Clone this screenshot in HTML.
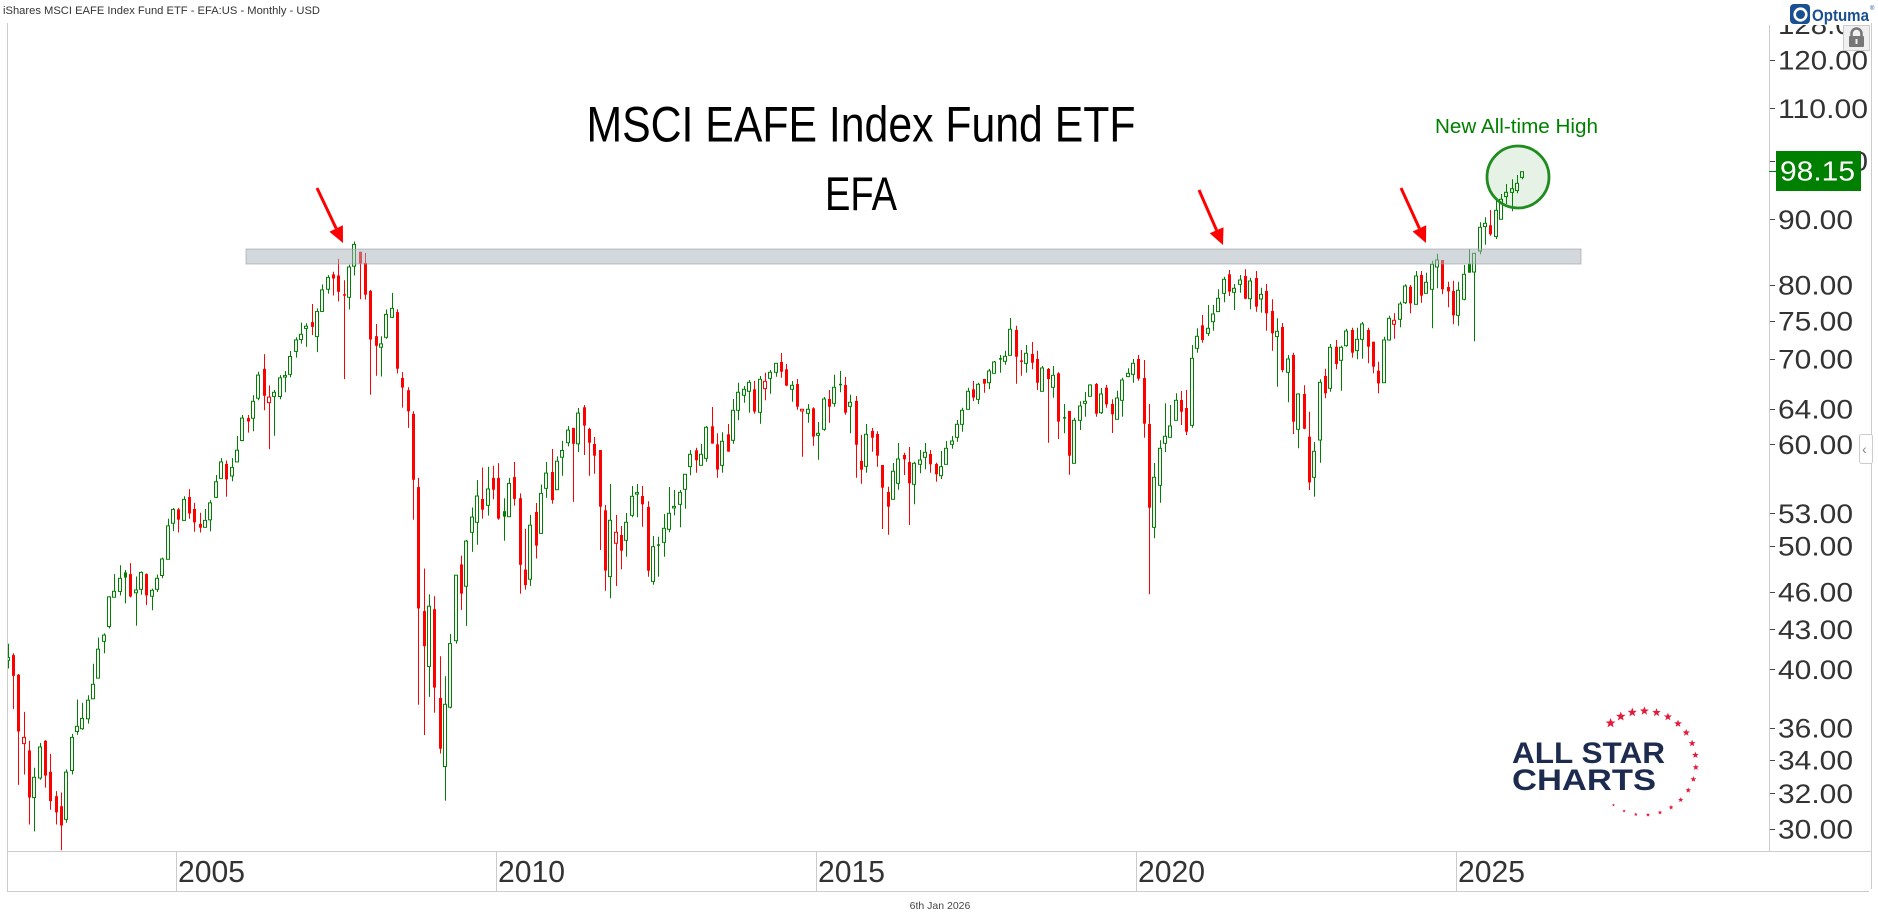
<!DOCTYPE html>
<html><head><meta charset="utf-8">
<style>
html,body{margin:0;padding:0;background:#fff;width:1878px;height:924px;overflow:hidden}
svg{display:block}
text{font-family:"Liberation Sans",Arial,sans-serif}
</style></head><body>
<svg id="s" width="1878" height="924" viewBox="0 0 1878 924" xmlns="http://www.w3.org/2000/svg">
<defs>
<clipPath id="axclip"><rect x="1770" y="25" width="101" height="826"/></clipPath>
<clipPath id="plotclip"><rect x="8" y="24" width="1761" height="827"/></clipPath>
</defs>
<rect width="1878" height="924" fill="#fff"/>
<text x="3" y="14" font-size="11" fill="#333" textLength="317" lengthAdjust="spacingAndGlyphs">iShares MSCI EAFE Index Fund ETF - EFA:US - Monthly - USD</text>

<g stroke="#cccccc" stroke-width="1" fill="none" shape-rendering="crispEdges">
<line x1="7.5" y1="23" x2="7.5" y2="891"/>
<line x1="1871.5" y1="23" x2="1871.5" y2="889"/>
<line x1="7" y1="891.5" x2="1869" y2="891.5"/>
<line x1="7" y1="851.5" x2="1871" y2="851.5"/>
<line x1="1769.5" y1="25" x2="1769.5" y2="851"/>
<line x1="176.5" y1="851" x2="176.5" y2="891"/>
<line x1="496.5" y1="851" x2="496.5" y2="891"/>
<line x1="816.5" y1="851" x2="816.5" y2="891"/>
<line x1="1136.5" y1="851" x2="1136.5" y2="891"/>
<line x1="1456.5" y1="851" x2="1456.5" y2="891"/>
</g>

<g font-size="31" fill="#333">
<text x="178" y="882" textLength="67" lengthAdjust="spacingAndGlyphs">2005</text>
<text x="498" y="882" textLength="67" lengthAdjust="spacingAndGlyphs">2010</text>
<text x="818" y="882" textLength="67" lengthAdjust="spacingAndGlyphs">2015</text>
<text x="1138" y="882" textLength="67" lengthAdjust="spacingAndGlyphs">2020</text>
<text x="1458" y="882" textLength="67" lengthAdjust="spacingAndGlyphs">2025</text>
</g>

<g id="yaxis" clip-path="url(#axclip)"></g>

<g id="candles" clip-path="url(#plotclip)"></g>

<rect x="246" y="249" width="1335" height="15" fill="rgba(167,177,187,0.5)" stroke="rgba(140,150,160,0.55)" stroke-width="1"/>

<g stroke="#ff0000" stroke-width="3" fill="none">
<line x1="317" y1="188" x2="336.2" y2="228.5"/>
<line x1="1199" y1="190" x2="1216.6" y2="230.3"/>
<line x1="1401" y1="188" x2="1419.4" y2="228.4"/>
</g>
<g fill="#ff0000">
<polygon points="343,243 342.9,225.3 329.4,231.8"/>
<polygon points="1223,245 1223.5,227.3 1209.7,233.3"/>
<polygon points="1426,243 1426.2,225.3 1412.6,231.5"/>
</g>

<circle cx="1518" cy="177" r="31" fill="rgba(0,128,0,0.1)" stroke="#1e8c1e" stroke-width="2.8"/>
<text x="1435" y="133" font-size="20" fill="#008000" textLength="163" lengthAdjust="spacingAndGlyphs">New All-time High</text>

<text x="861" y="141.5" font-size="50" fill="#000" text-anchor="middle" textLength="549" lengthAdjust="spacingAndGlyphs">MSCI EAFE Index Fund ETF</text>
<text x="861" y="210" font-size="47" fill="#000" text-anchor="middle" textLength="72" lengthAdjust="spacingAndGlyphs">EFA</text>

<!-- price marker -->
<line x1="1769" y1="171.5" x2="1777" y2="171.5" stroke="#008000" stroke-width="1"/>
<rect x="1776" y="151" width="85" height="40" fill="#008000"/>
<text x="1780" y="180.5" font-size="28" fill="#fff" textLength="75" lengthAdjust="spacingAndGlyphs">98.15</text>

<!-- side tab -->
<rect x="1859.5" y="434.5" width="13" height="29" rx="2" fill="#fff" stroke="#cccccc"/>
<text x="1862" y="454" font-size="14" fill="#888">‹</text>

<!-- lock -->
<rect x="1843.5" y="25.5" width="26" height="25" fill="#f0f0f0" stroke="#cccccc"/>
<path d="M1851.5 37 v-3.5 a5 5 0 0 1 10 0 v3.5" stroke="#777" stroke-width="2.5" fill="none"/>
<rect x="1849" y="36" width="15" height="11" rx="1" fill="#777"/>
<rect x="1855.5" y="39" width="2" height="5" fill="#f0f0f0"/>

<!-- Optuma logo -->
<rect x="1790" y="4" width="20" height="20" rx="4" fill="#1b4f93"/>
<circle cx="1800.5" cy="14.5" r="5.8" fill="none" stroke="#fff" stroke-width="2.6"/>
<circle cx="1802" cy="16" r="2.2" fill="#1b4f93"/>
<text x="1812" y="21" font-size="17" fill="#1b4f93" font-weight="bold" textLength="57" lengthAdjust="spacingAndGlyphs">Optuma</text>
<text x="1870" y="10" font-size="6" fill="#1b4f93">®</text>

<!-- All Star Charts logo -->
<g id="stars"></g>
<text x="1512" y="763" font-size="30" font-weight="bold" fill="#1d2b4f" textLength="153" lengthAdjust="spacingAndGlyphs">ALL STAR</text>
<text x="1512" y="790" font-size="30" font-weight="bold" fill="#1d2b4f" textLength="144" lengthAdjust="spacingAndGlyphs">CHARTS</text>

<text x="940" y="909" font-size="10.5" fill="#444" text-anchor="middle">6th Jan 2026</text>
</svg>

<script>
(function(){
var zs=[
{off:320,div:2.904,start:1,d:[
[980,988,940,1012,'g'],[973,1033,968,1130,'r'],[1030,1195,1028,1350,'r'],[1212,1230,1138,1320,'R'],[1250,1387,1222,1465,'r'],
[1328,1387,1300,1485,'g'],[1240,1330,1228,1335,'g'],[1222,1323,1220,1358,'r'],[1312,1397,1260,1422,'r'],[1383,1430,1368,1465,'r'],
[1412,1468,1372,1540,'r'],[1313,1450,1305,1460,'g'],[1212,1308,1202,1320,'g'],[1180,1195,1102,1205,'g'],[1157,1187,1112,1190,'g'],
[1104,1158,1090,1172,'g'],[1058,1100,998,1100,'g'],[956,1040,922,1040,'g'],[915,933,910,968,'g'],[804,890,802,896,'g'],
[788,805,738,805,'g'],[750,788,712,800,'g'],[733,748,726,823,'G'],[738,803,706,806,'r'],[784,792,745,888,'g'],
[733,782,730,798,'g'],[738,800,736,828,'r'],[785,802,780,843,'g'],[750,782,739,790,'g'],[694,742,690,750,'g'],
[598,695,577,695,'g'],[550,590,546,613,'g'],[550,580,546,617,'r'],[521,582,512,582,'g'],[514,562,491,577,'r'],
[549,588,531,615,'r'],[592,603,560,617,'r'],[582,602,549,602,'g'],[531,580,523,614,'g'],[470,515,450,517,'g'],
[412,460,401,460,'g'],[418,463,408,513,'r'],[428,453,401,468,'g'],[378,412,337,412,'g'],[285,350,276,352,'g'],
[285,295,276,327,'r'],[236,285,218,323,'g'],[160,227,150,233,'g'],[142,220,99,262,'r'],[224,240,190,375,'R'],
[210,222,203,336,'g'],[168,222,160,230,'g'],[162,165,148,210,'g']]},
{off:230,div:2.703,start:54,d:[
[342,390,327,398,'g'],[297,328,290,345,'g'],[282,296,250,307,'g'],[260,266,252,316,'g'],[249,262,200,284,'r'],
[220,288,212,330,'g'],[162,220,147,222,'g'],[128,160,122,172,'g'],[120,131,113,177,'r'],[123,167,78,193,'r'],
[174,177,136,403,'r'],[100,182,94,215,'g'],[39,98,31,123,'g'],[59,91,59,187,'r'],[89,175,62,188,'r'],
[165,296,162,445,'r'],[287,313,254,394,'r'],[308,317,287,396,'g'],[228,290,215,294,'g'],[212,236,170,238,'g'],
[222,375,214,388,'r'],[400,426,384,480,'r'],[433,490,425,535,'r'],[497,675,490,783,'r'],[695,1023,670,1283,'r'],
[1030,1125,915,1365,'r'],[1017,1180,985,1262,'g'],[1025,1237,990,1305,'r'],[1265,1402,1152,1415,'r'],[1282,1450,1206,1543,'g'],
[1118,1290,1092,1293,'g'],[933,1110,933,1118,'g'],[904,983,880,1027,'r'],[841,963,838,1070,'g'],[776,817,750,870,'g'],
[719,790,676,851,'g'],[727,756,642,780,'r'],[700,744,640,772,'g'],[670,702,637,728,'r'],[670,780,630,783,'r'],
[760,775,725,840,'G'],[685,775,670,775,'g'],[668,727,627,745,'r'],[725,905,712,983,'r'],[918,960,808,972,'r'],
[798,944,770,962,'g'],[762,853,738,888,'r'],[712,820,688,820,'g'],[657,698,627,724,'g'],[654,730,592,740,'r'],
[625,702,612,702,'g'],[596,614,570,664,'g'],[541,575,530,585,'g'],[535,578,535,735,'r'],[495,578,481,600,'g']]},
{off:330,div:3,start:109,d:[
[232,287,225,375,'r'],[297,338,293,437,'r'],[342,377,321,431,'r'],[360,530,360,660,'r'],[541,722,525,782,'r'],
[571,740,462,805,'g'],[607,640,555,768,'R'],[615,662,588,718,'r'],[577,631,549,680,'g'],[499,556,468,562,'g'],
[489,491,462,562,'g'],[498,523,468,590,'r'],[531,722,514,740,'r'],[650,754,618,764,'g'],[643,647,620,740,'G'],
[595,637,552,680,'g'],[550,598,471,607,'g'],[531,532,480,556,'g'],[487,523,480,592,'g'],[433,478,433,536,'g'],
[373,410,360,436,'g'],[361,391,353,428,'r'],[373,406,342,406,'g'],[292,385,288,395,'g'],[289,341,231,341,'r'],
[343,419,310,443,'r'],[334,406,307,428,'g'],[313,365,282,365,'r'],[241,331,207,341,'g'],[187,241,158,271,'g'],
[178,196,168,218,'g'],[157,184,150,248,'g'],[178,245,153,251,'r'],[148,247,138,281,'g'],[154,176,128,211,'R'],
[127,145,120,191,'g'],[100,127,100,140,'g'],[96,125,69,143,'r'],[118,167,102,169,'r'],[166,178,153,215,'g'],
[162,230,147,239,'r'],[238,243,238,380,'R'],[238,250,222,278,'g'],[235,320,232,347,'r'],[310,316,276,389,'g'],
[207,298,201,302,'g'],[207,230,180,278,'r'],[172,220,134,230,'g'],[162,165,123,187,'G'],[165,248,141,254,'r'],
[217,229,194,310,'g'],[213,344,198,443,'r'],[393,419,315,461,'r'],[313,409,282,428,'g'],[303,323,294,365,'r'],
[312,377,304,410,'r'],[405,473,405,597,'r'],[486,530,470,614,'r'],[424,508,399,508,'g'],[387,460,339,479,'g']]},
{off:260,div:3,start:169,d:[
[585,598,578,645,'r'],[606,670,561,795,'r'],[610,673,605,733,'g'],[600,613,570,640,'g'],[577,592,549,628,'g'],
[582,613,570,638,'r'],[612,643,608,665,'r'],[620,647,573,657,'g'],[565,613,543,613,'g'],[543,553,528,566,'g'],
[493,532,480,545,'g'],[451,493,443,515,'g'],[394,448,383,448,'g'],[388,413,363,423,'r'],[373,418,368,432,'g'],
[357,371,357,398,'r'],[333,368,327,387,'g'],[306,340,303,340,'g'],[295,298,285,338,'G'],[289,304,272,314,'g'],
[208,286,174,286,'g'],[210,290,197,371,'r'],[303,304,270,347,'r'],[280,310,255,338,'g'],[282,308,246,328,'r'],
[297,368,272,390,'r'],[324,394,318,394,'g'],[327,357,324,548,'r'],[346,382,318,413,'g'],[340,485,337,537,'r'],
[472,475,432,520,'G'],[453,587,453,644,'r'],[481,610,473,610,'g'],[438,481,424,510,'g'],[424,430,396,470,'g'],
[375,409,373,409,'g'],[372,461,369,470,'r'],[402,458,384,462,'g'],[383,433,375,443,'r'],[432,463,418,519,'r'],
[414,478,392,478,'g'],[360,421,353,470,'g'],[340,350,325,352,'g'],[310,343,297,368,'g'],[297,356,285,362,'r'],
[354,491,300,533,'r'],[492,743,432,1003,'r'],[652,802,609,835,'g'],[565,676,541,728,'g'],[529,550,430,576,'g'],
[498,532,435,532,'g'],[421,481,400,481,'g'],[420,455,393,495,'r'],[444,515,390,525,'r'],[295,496,255,503,'g'],
[229,265,205,278,'g'],[196,240,165,248,'r'],[205,220,135,228,'g']]},
{off:140,div:3,start:227,d:[
[522,545,495,572,'g'],[475,515,448,515,'g'],[418,460,410,487,'g'],[403,455,390,468,'r'],[445,457,432,510,'g'],
[420,433,405,458,'g'],[408,476,388,478,'r'],[423,476,413,508,'g'],[414,500,393,515,'r'],[463,477,443,518,'g'],
[453,520,432,572,'r'],[513,580,478,632,'r'],[574,590,535,740,'g'],[561,690,549,697,'r'],[657,697,645,787,'g'],
[645,845,638,882,'r'],[762,868,760,925,'g'],[762,866,736,868,'r'],[890,1027,815,1050,'r'],[934,1012,906,1070,'g'],
[727,900,718,968,'g'],[708,760,686,775,'r'],[622,745,612,755,'g'],[620,672,600,688,'r'],[622,661,617,752,'g'],
[573,617,566,620,'g'],[570,638,563,653,'r'],[598,632,563,658,'g'],[552,598,546,656,'g'],[570,620,563,670,'r'],
[605,680,605,700,'r'],[692,730,665,760,'r'],[600,728,590,728,'g'],[535,600,527,602,'g'],[541,553,520,596,'R'],
[492,538,485,562,'g'],[438,488,433,492,'g'],[440,490,435,520,'r'],[408,493,393,493,'g'],[405,467,393,488,'r'],
[427,460,398,460,'g'],[373,448,362,565,'g'],[360,381,341,445,'g'],[360,448,360,463,'r'],[441,454,425,502,'r'],
[453,526,422,553,'r'],[451,526,425,557,'g'],[403,478,375,481,'g'],[371,398,328,398,'G'],[340,396,340,604,'g'],
[262,333,247,343,'g'],[250,260,232,314,'g'],[256,283,210,287,'r'],[211,290,178,297,'g'],[178,238,162,238,'g'],
[157,170,132,192,'g'],[146,157,118,214,'g'],[130,152,105,160,'g'],[95,112,95,118,'g']]}
];
var s='';
zs.forEach(function(z){
  z.d.forEach(function(c,i){
    var n=z.start+i;
    var cx=7.7+(n-1)*16/3;
    var px=Math.round(cx);
    function Y(v){return z.off+v/z.div;}
    var bt=Y(c[0]),bb=Y(c[1]),wt=Y(c[2]),wb=Y(c[3]),t=c[4];
    if(bb-bt<1.5){var m=(bt+bb)/2;bt=m-0.75;bb=m+0.75;}
    var col=(t==='g'||t==='G')?'#008000':'#ff0000';
    var hollow=(t==='g'||t==='R');
    var wx=px+0.5;
    if(hollow){
      if(wt<bt) s+='<line x1="'+wx+'" y1="'+wt.toFixed(1)+'" x2="'+wx+'" y2="'+bt.toFixed(1)+'" stroke="'+col+'" stroke-width="1"/>';
      if(wb>bb) s+='<line x1="'+wx+'" y1="'+bb.toFixed(1)+'" x2="'+wx+'" y2="'+wb.toFixed(1)+'" stroke="'+col+'" stroke-width="1"/>';
      s+='<rect x="'+(px-1.5)+'" y="'+bt.toFixed(1)+'" width="3" height="'+(bb-bt).toFixed(1)+'" fill="#fff" stroke="'+col+'" stroke-width="1"/>';
    } else {
      s+='<line x1="'+wx+'" y1="'+wt.toFixed(1)+'" x2="'+wx+'" y2="'+wb.toFixed(1)+'" stroke="'+col+'" stroke-width="1"/>';
      s+='<rect x="'+(px-1)+'" y="'+bt.toFixed(1)+'" width="3" height="'+(bb-bt).toFixed(1)+'" fill="'+col+'"/>';
    }
  });
});
document.getElementById('candles').innerHTML=s;

// y axis labels
var labs=[128,120,110,100,90,80,75,70,64,60,53,50,46,43,40,36,34,32,30];
var ya='';
labs.forEach(function(p){
  var y=829-554.8*Math.log(p/30);
  var txt=p.toFixed(2);
  var tl=txt.length>5?90:75;
  ya+='<line x1="1769" y1="'+(Math.round(y)+0.5)+'" x2="1775" y2="'+(Math.round(y)+0.5)+'" stroke="#444" stroke-width="1"/>';
  ya+='<text x="1778" y="'+(y+9.7).toFixed(1)+'" font-size="27" fill="#333" textLength="'+tl+'" lengthAdjust="spacingAndGlyphs">'+txt+'</text>';
});
document.getElementById('yaxis').innerHTML=ya;

// stars arc
function star(cx,cy,R){
  var pts=[];
  for(var k=0;k<10;k++){
    var r=(k%2===0)?R:R*0.42;
    var a=-Math.PI/2+k*Math.PI/5;
    pts.push((cx+r*Math.cos(a)).toFixed(1)+','+(cy+r*Math.sin(a)).toFixed(1));
  }
  return '<polygon points="'+pts.join(' ')+'" fill="#e31b3b"/>';
}
var st='';
var N=20, a0=-130, a1=126, C={x:1644,y:763}, RR=52;
for(var i=0;i<N;i++){
  var f=i/(N-1);
  var ang=(a0+(a1-a0)*f)*Math.PI/180;
  var sz=5.2-3.6*f;
  st+=star(C.x+RR*Math.cos(ang),C.y+RR*Math.sin(ang),sz);
}
document.getElementById('stars').innerHTML=st;
})();
</script>
</body></html>
